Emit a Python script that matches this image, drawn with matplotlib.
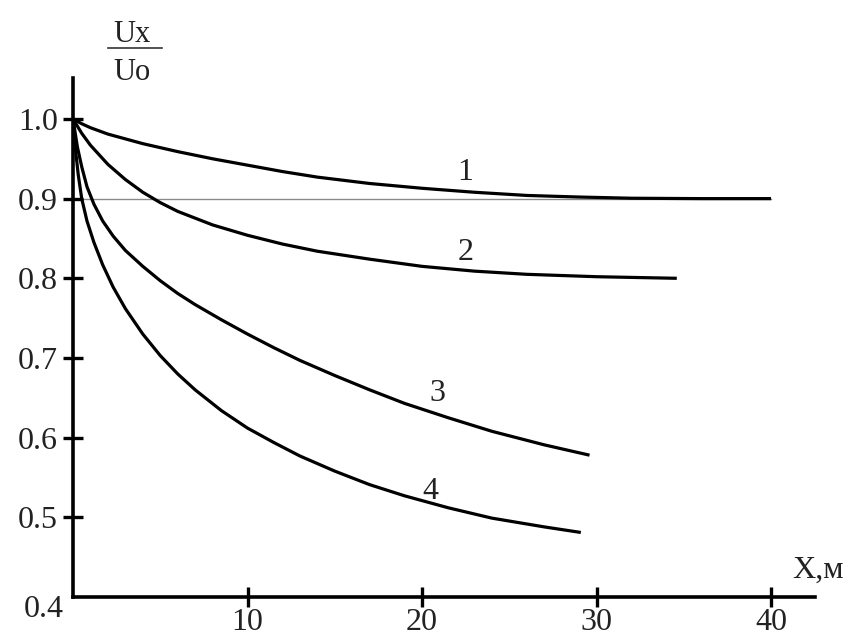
import matplotlib
matplotlib.use('Agg')
import matplotlib.pyplot as plt
from matplotlib.lines import Line2D

plt.rcParams['font.family'] = ['Liberation Serif', 'DejaVu Serif']

# Кривые Ux/Uo в зависимости от расстояния X, м
x1 = [0, 0.5, 1, 2, 3, 4, 5, 6, 8, 10, 12, 14, 17, 20, 23, 26, 29, 32, 36, 40]
y1 = [1.0, 0.994, 0.989, 0.981, 0.975, 0.969, 0.964, 0.959, 0.950, 0.942, 0.934, 0.927,
      0.919, 0.913, 0.908, 0.904, 0.902, 0.9005, 0.900, 0.900]

x2 = [0, 0.5, 1, 2, 3, 4, 5, 6, 8, 10, 12, 14, 17, 20, 23, 26, 30, 34.6]
y2 = [1.0, 0.982, 0.967, 0.943, 0.924, 0.908, 0.895, 0.884, 0.867, 0.854, 0.843, 0.834,
      0.824, 0.815, 0.809, 0.805, 0.802, 0.800]

x3 = [0, 0.25, 0.5, 0.8, 1.2, 1.7, 2.3, 3, 4, 5, 6, 7, 8.5, 10, 11.5, 13, 15, 17, 19,
      21.5, 24, 27, 29.6]
y3 = [1.0, 0.965, 0.94, 0.915, 0.893, 0.872, 0.853, 0.835, 0.815, 0.797, 0.781, 0.767,
      0.748, 0.730, 0.713, 0.697, 0.678, 0.660, 0.643, 0.625, 0.608, 0.591, 0.578]

x4 = [0, 0.15, 0.3, 0.5, 0.8, 1.2, 1.7, 2.3, 3, 4, 5, 6, 7, 8.5, 10, 11.5, 13, 15, 17,
      19, 21.5, 24, 27, 29.1]
y4 = [1.0, 0.96, 0.93, 0.90, 0.872, 0.845, 0.817, 0.789, 0.762, 0.730, 0.703, 0.680,
      0.660, 0.634, 0.612, 0.594, 0.577, 0.558, 0.541, 0.527, 0.512, 0.499, 0.488, 0.481]

curves = [(x1, y1), (x2, y2), (x3, y3), (x4, y4)]
names = ['1', '2', '3', '4']
name_pos = [(22.5, 0.933), (22.5, 0.833), (20.9, 0.655), (20.5, 0.533)]

xticks = [10, 20, 30, 40]
yticks = [0.5, 0.6, 0.7, 0.8, 0.9, 1.0]
level = 0.9

fig = plt.figure(figsize=(8.5, 6.37), dpi=100)
ax = fig.add_axes([73/850, 40/637, 742/850, 519/637])
ax.set_xlim(0, 42.52)
ax.set_ylim(0.4, 1.0514)

# тонкая линия уровня 0.9
ax.plot([0, 40], [level, level], color='#8a8a8a', lw=1.0, zorder=1)

for (xs, ys) in curves:
    ax.plot(xs, ys, color='black', lw=2.3, solid_capstyle='butt',
            solid_joinstyle='round', zorder=3)

for n, (tx, ty) in zip(names, name_pos):
    ax.text(tx, ty, n, fontsize=23, ha='center', va='center', color='#222222')

for s in ['top', 'right']:
    ax.spines[s].set_visible(False)
for s in ['left', 'bottom']:
    ax.spines[s].set_linewidth(2.6)
    ax.spines[s].set_color('black')

ax.set_xticks(xticks)
ax.set_xticklabels([str(t) for t in xticks])
ax.set_yticks(yticks)
ax.set_yticklabels([f'{t:.1f}' for t in yticks])
ax.tick_params(direction='inout', length=14, width=2.4, labelsize=23,
               labelcolor='#222222')
ax.tick_params(axis='x', pad=1)
ax.tick_params(axis='y', pad=4)

ax.text(-1.66, 0.3837, '0.4', fontsize=23, ha='center', va='center',
        color='#222222', clip_on=False)
ax.text(42.69, 0.434, 'X,м', fontsize=23, ha='center', va='center',
        color='#222222', clip_on=False)

# подпись оси Y в виде дроби
fig.text(132/850, 1 - 42/637, 'Ux', fontsize=22, ha='center', va='baseline', color='#222222')
fig.text(132/850, 1 - 80/637, 'Uo', fontsize=22, ha='center', va='baseline', color='#222222')
fig.add_artist(Line2D([108/850, 162/850], [1 - 48/637, 1 - 48/637],
                      transform=fig.transFigure, color='#333333', lw=1.2))

fig.savefig('out.png', dpi=100)
